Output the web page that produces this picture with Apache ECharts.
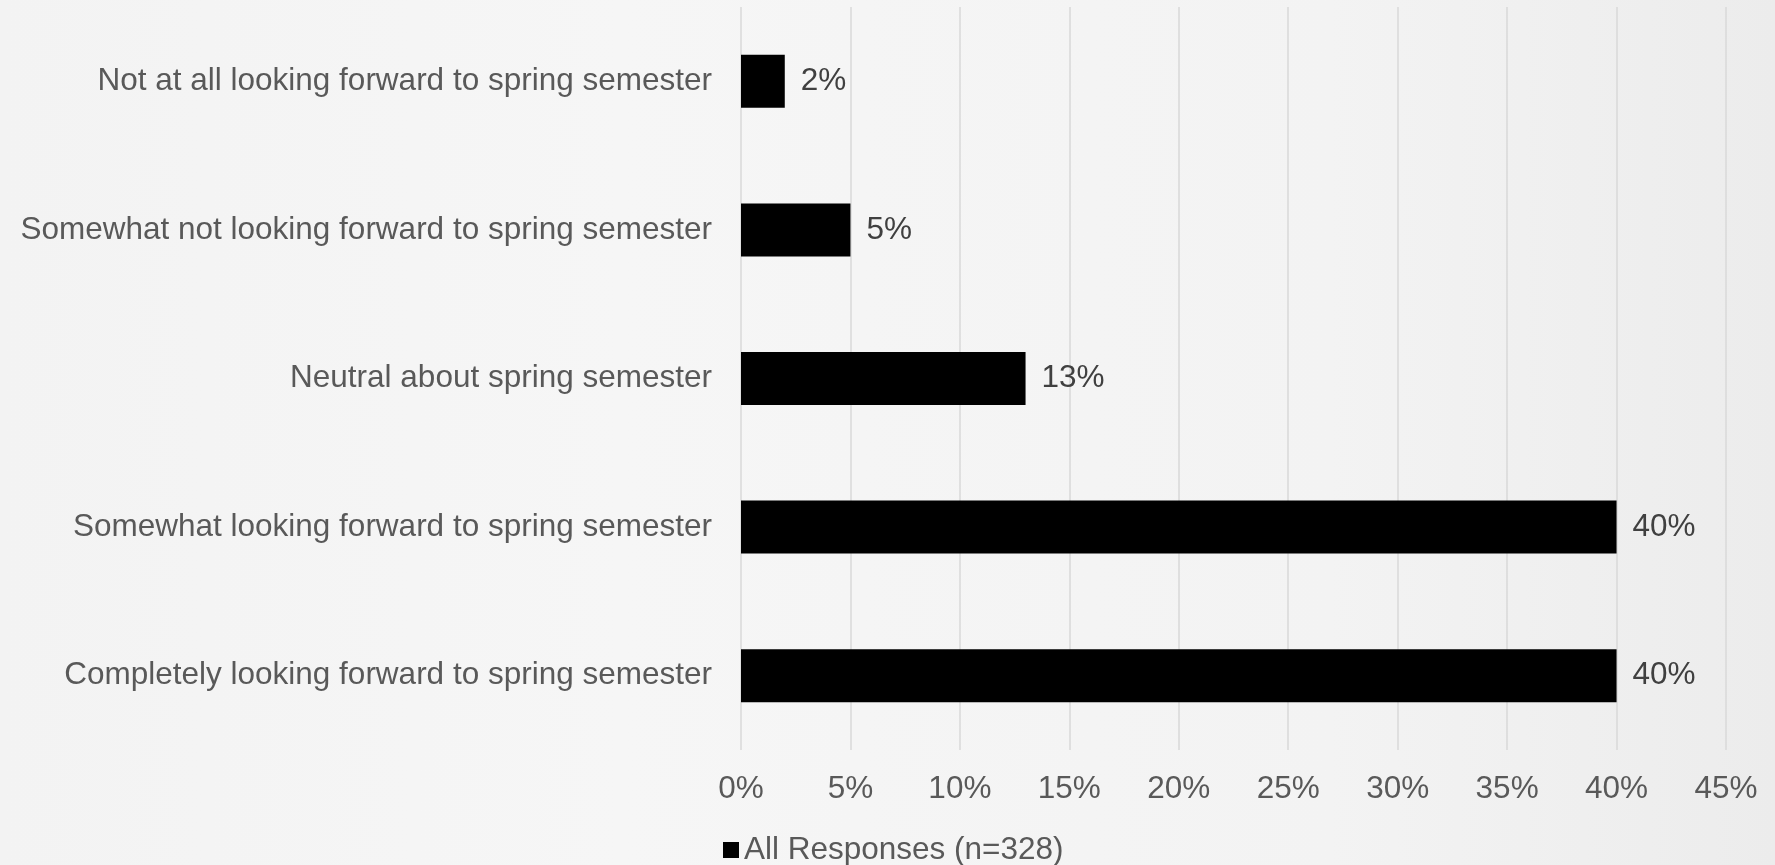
<!DOCTYPE html>
<html>
<head>
<meta charset="utf-8">
<title>Spring semester</title>
<script src="https://cdn.jsdelivr.net/npm/echarts@6/dist/echarts.min.js"></script>
<style>
  html, body {
    margin: 0;
    padding: 0;
  }
  body {
    background: linear-gradient(90deg, #f3f3f3 0%, #f6f6f6 35%, #f3f3f3 75%, #ececec 100%);
  }
  #chart {
    width: 1775px;
    height: 865px;
  }
</style>
</head>
<body>
<div id="chart"></div>
<script>
// categories listed bottom to top (ECharts puts the first one at the bottom)
var categories = [
  "Completely looking forward to spring semester",
  "Somewhat looking forward to spring semester",
  "Neutral about spring semester",
  "Somewhat not looking forward to spring semester",
  "Not at all looking forward to spring semester"
];
var allResponses = [40, 40, 13, 5, 2];
var seriesName = "All Responses (n=328)";
var axisMax = 45;
var axisStep = 5;

var font = '"Liberation Sans", Arial, sans-serif';

var myChart = echarts.init(document.getElementById("chart"));
var option = {
  backgroundColor: "transparent",
  grid: {
    left: 741,
    right: 49,
    top: 7,
    bottom: 115
  },
  legend: {
    data: [seriesName],
    left: 718,
    top: 829,
    icon: "rect",
    itemWidth: 16,
    itemHeight: 16,
    textStyle: {
      fontFamily: font,
      fontSize: 31.5,
      color: "#595959"
    }
  },
  xAxis: {
    type: "value",
    min: 0,
    max: axisMax,
    interval: axisStep,
    axisLine: { show: false },
    axisTick: { show: false },
    splitLine: {
      show: true,
      lineStyle: { color: "#d9d9d9", width: 1.5 }
    },
    axisLabel: {
      formatter: "{value}%",
      margin: 23,
      fontFamily: font,
      fontSize: 31.5,
      color: "#595959"
    }
  },
  yAxis: {
    type: "category",
    data: categories,
    axisLine: { show: false },
    axisTick: { show: false },
    axisLabel: {
      margin: 29,
      fontFamily: font,
      fontSize: 31.5,
      color: "#595959"
    }
  },
  series: [
    {
      name: seriesName,
      type: "bar",
      data: allResponses,
      barWidth: 53,
      itemStyle: { color: "#000000" },
      label: {
        show: true,
        position: "right",
        distance: 16,
        formatter: "{c}%",
        fontFamily: font,
        fontSize: 31.5,
        color: "#404040",
        padding: [6, 0, 0, 0]
      },
      animation: false
    }
  ]
};
myChart.setOption(option);
</script>
</body>
</html>
